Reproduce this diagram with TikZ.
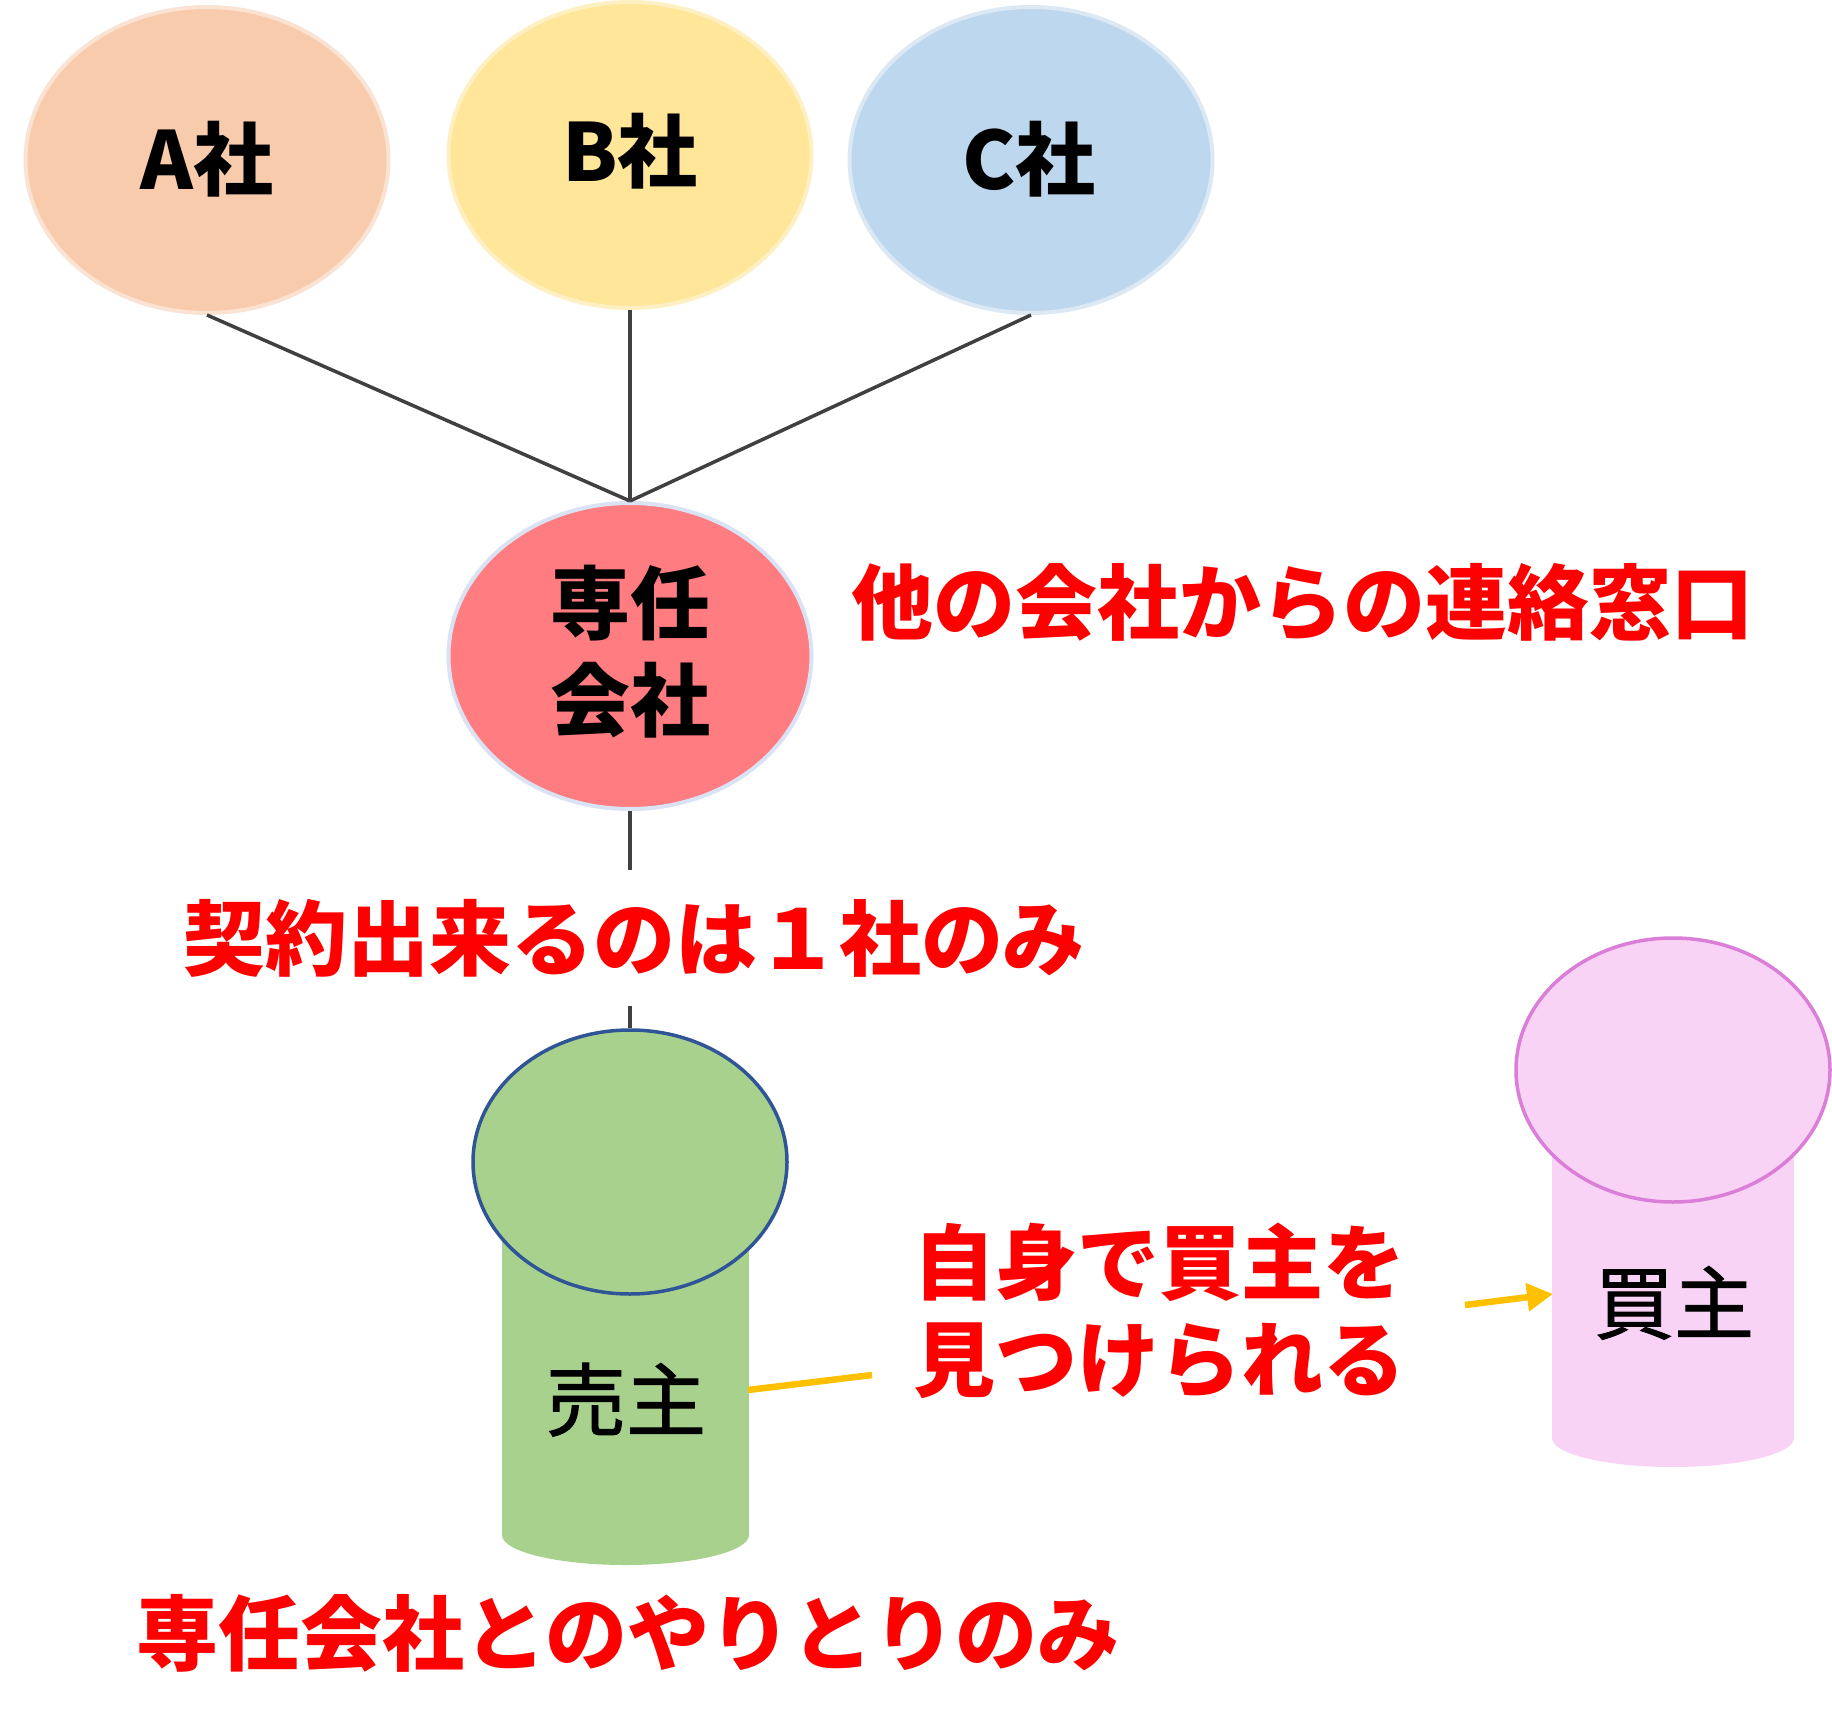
\documentclass[tikz,border=0pt]{standalone}
\usepackage{fontspec}
\newfontfamily\jp{Noto Sans CJK JP}
\newfontfamily\jpmed{Noto Sans CJK JP}[FakeBold=1.2]
\usetikzlibrary{shapes.geometric,arrows.meta}
\definecolor{cA}{HTML}{F8CBAD}
\definecolor{cAb}{HTML}{FBE3D4}
\definecolor{cB}{HTML}{FFE699}
\definecolor{cBb}{HTML}{FFF0C4}
\definecolor{cC}{HTML}{BDD7EE}
\definecolor{cCb}{HTML}{DCE9F5}
\definecolor{cS}{HTML}{FF7C80}
\definecolor{cSb}{HTML}{DAE3F3}
\definecolor{cG}{HTML}{A9D18E}
\definecolor{cGb}{HTML}{2F5597}
\definecolor{cP}{HTML}{F9D3F5}
\definecolor{cPb}{HTML}{DA7ED8}
\definecolor{cL}{HTML}{404040}
\definecolor{cY}{HTML}{FFC000}
\definecolor{cR}{HTML}{FF0000}
\begin{document}
\begin{tikzpicture}[x=1pt,y=-1pt,
  company/.style={ellipse, draw, line width=4pt, minimum width=363pt, minimum height=306pt, inner sep=0pt},
  person/.style={ellipse, draw, line width=3.5pt, minimum width=314pt, minimum height=264pt, inner sep=0pt},
  conn/.style={draw=cL, line width=3.5pt},
  yel/.style={draw=cY, line width=6.5pt},
  redtxt/.style={font=\jp\bfseries\fontsize{82}{97}\selectfont, text=cR, inner sep=0pt, text height=72pt, text depth=10pt},
  blk/.style={font=\jp\bfseries\fontsize{80}{100}\selectfont, text=black, inner sep=0pt, text height=70pt, text depth=10pt},
  blkreg/.style={font=\jpmed\fontsize{80}{100}\selectfont, text=black, inner sep=0pt, text height=70pt, text depth=10pt}
]
\useasboundingbox (0,0) rectangle (1832,1728);
\fill[white] (0,0) rectangle (1832,1728);

% top companies
\node[company, fill=cA, draw=cAb] (A) at (207,160) {};
\node[company, fill=cB, draw=cBb] (B) at (630,155) {};
\node[company, fill=cC, draw=cCb] (C) at (1031,160) {};
\node[blk] (At) at (207,160) {A社};
\node[blk] (Bt) at (630,152) {B社};
\node[blk] (Ct) at (1029,160) {C社};

% exclusive company
\node[company, fill=cS, draw=cSb] (S) at (630,656) {};
\node[blk] (St1) at (630,603) {専任};
\node[blk] (St2) at (630,700) {会社};

\draw[conn] (A.south) -- (S.north);
\draw[conn] (B.south) -- (S.north);
\draw[conn] (C.south) -- (S.north);

\node[redtxt, anchor=west] (t1) at (851,602) {他の会社からの連絡窓口};

% seller body
\fill[cG] (502,1180) rectangle (749,1535);
\fill[cG] (625.5,1535) ellipse [x radius=123.5pt, y radius=30pt];
\node[person, fill=cG, draw=cGb] (seller) at (630,1162) {};
\node[blkreg] (sellert) at (626,1400) {売主};

% buyer body
\fill[cP] (1552,1100) rectangle (1794,1438);
\fill[cP] (1673,1438) ellipse [x radius=121pt, y radius=29pt];
\node[person, fill=cP, draw=cPb] (buyer) at (1673,1070) {};
\node[blkreg] (buyert) at (1674,1303) {買主};

% connector through label
\draw[conn] (S.south) -- (seller.north);
\node[redtxt, fill=white, inner xsep=0pt, inner ysep=27pt] (t2) at (634,938) {契約出来るのは１社のみ};

\node[redtxt, anchor=west] (t3a) at (913,1262) {自身で買主を};
\node[redtxt, anchor=west] (t3b) at (913,1359) {見つけられる};

\coordinate (ys) at (748,1390);
\coordinate (ye) at (872,1375);
\draw[yel] (ys) -- (ye);
\coordinate (as) at (1465,1305);
\coordinate (ae) at (1553,1294);
\draw[yel, -{Triangle[length=26pt,width=27pt]}] (as) -- (ae);

\node[redtxt, anchor=west] (t4) at (136,1633) {専任会社とのやりとりのみ};
\end{tikzpicture}
\end{document}
